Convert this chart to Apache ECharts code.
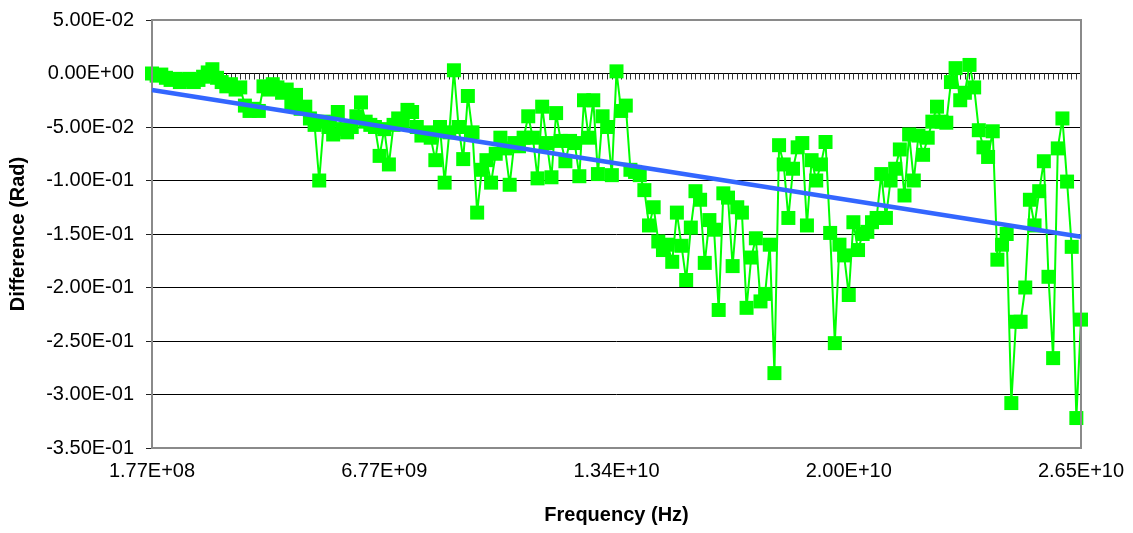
<!DOCTYPE html>
<html>
<head>
<meta charset="utf-8">
<script src="https://cdn.jsdelivr.net/npm/echarts@6/dist/echarts.min.js"></script>
<style>html,body{margin:0;padding:0;background:#fff}#c{width:1133px;height:533px}</style>
</head>
<body>
<div id="c"></div>
<script>
// Phase difference (rad), one value per frequency point (201 points, 1.77E+08 .. 2.65E+10 Hz)
const diff = [
  0.000,-0.002,-0.001,-0.004,-0.006,-0.005,-0.008,-0.006,-0.005,-0.008,
 -0.006,-0.003, 0.001, 0.004,-0.004,-0.008,-0.012,-0.010,-0.015,-0.013,
 -0.030,-0.035,-0.033,-0.035,-0.012,-0.015,-0.010,-0.013,-0.018,-0.015,
 -0.028,-0.020,-0.033,-0.031,-0.042,-0.048,-0.100,-0.045,-0.050,-0.057,
 -0.036,-0.052,-0.055,-0.050,-0.040,-0.027,-0.045,-0.048,-0.050,-0.077,
 -0.052,-0.085,-0.048,-0.042,-0.045,-0.034,-0.036,-0.050,-0.058,-0.055,
 -0.060,-0.081,-0.050,-0.102,-0.055, 0.003,-0.050,-0.080,-0.021,-0.055,
 -0.130,-0.090,-0.081,-0.102,-0.075,-0.060,-0.070,-0.104,-0.065,-0.068,
 -0.060,-0.040,-0.060,-0.098,-0.031,-0.065,-0.097,-0.037,-0.063,-0.082,
 -0.063,-0.065,-0.096,-0.025,-0.060,-0.025,-0.094,-0.040,-0.050,-0.095,
  0.002,-0.035,-0.030,-0.090,-0.092,-0.095,-0.109,-0.142,-0.125,-0.157,
 -0.165,-0.160,-0.176,-0.130,-0.161,-0.193,-0.144,-0.110,-0.118,-0.177,
 -0.137,-0.146,-0.221,-0.112,-0.116,-0.180,-0.125,-0.130,-0.219,-0.172,
 -0.154,-0.213,-0.206,-0.160,-0.280,-0.067,-0.085,-0.135,-0.089,-0.069,
 -0.065,-0.142,-0.081,-0.100,-0.085,-0.064,-0.149,-0.252,-0.160,-0.170,
 -0.207,-0.139,-0.165,-0.150,-0.148,-0.139,-0.135,-0.094,-0.135,-0.100,
 -0.089,-0.071,-0.114,-0.057,-0.100,-0.058,-0.076,-0.060,-0.045,-0.031,
 -0.045,-0.046,-0.008, 0.005,-0.025,-0.018, 0.008,-0.013,-0.053,-0.069,
 -0.078,-0.054,-0.174,-0.160,-0.150,-0.308,-0.232,-0.232,-0.200,-0.118,
 -0.142,-0.110,-0.082,-0.190,-0.266,-0.070,-0.042,-0.101,-0.162,-0.322,
 -0.230
];
// Linear trend line: value at first and last frequency point
const trendEnds = [-0.0154, -0.1525];
// Tick labels
const xTickLabels = ['1.77E+08','6.77E+09','1.34E+10','2.00E+10','2.65E+10'];
const xLabelEvery = 50;
const yTickLabels = ['-3.50E-01','-3.00E-01','-2.50E-01','-2.00E-01','-1.50E-01','-1.00E-01','-5.00E-02','0.00E+00','5.00E-02'];
const yMin = -0.35, yMax = 0.05, yStep = 0.05;

const categories = diff.map((_, i) => i);
const trendData = diff.map((_, i) => i === 0 ? trendEnds[0] : (i === diff.length - 1 ? trendEnds[1] : null));

const FONT = '"Liberation Sans", Arial, sans-serif';
const chart = echarts.init(document.getElementById('c'), null, {renderer: 'canvas'});
chart.setOption({
  animation: false,
  backgroundColor: '#ffffff',
  grid: {left: 152, right: 52, top: 20, bottom: 85, show: true, borderColor: '#8a8a8a', borderWidth: 2, backgroundColor: 'transparent', z: 3},
  xAxis: [{
    type: 'category', data: categories, boundaryGap: false, position: 'bottom',
    axisLine: {show: false, onZero: false},
    axisTick: {show: false},
    splitLine: {show: false},
    axisLabel: {interval: xLabelEvery - 1, margin: 13, color: '#000', fontFamily: FONT, fontSize: 20,
      formatter: (v, idx) => xTickLabels[Math.round(idx / xLabelEvery)]},
    name: 'Frequency (Hz)', nameLocation: 'middle', nameGap: 57,
    nameTextStyle: {color: '#000', fontFamily: FONT, fontSize: 20, fontWeight: 'bold'}
  }, {
    type: 'category', data: categories, boundaryGap: false, position: 'bottom',
    axisLine: {show: true, onZero: true, onZeroAxisIndex: 0, lineStyle: {color: '#000', width: 1}},
    axisTick: {show: true, interval: 0, length: 6, lineStyle: {color: '#333', width: 1}},
    axisLabel: {show: false},
    splitLine: {show: false}
  }],
  yAxis: {
    type: 'value', min: yMin, max: yMax, interval: yStep,
    axisLine: {show: true, lineStyle: {color: '#222', width: 1.5}},
    axisTick: {show: true, length: 6, lineStyle: {color: '#222', width: 1}},
    splitLine: {show: true, lineStyle: {color: ['#8a8a8a','#000','#000','#000','#000','#000','#000','#000','#8a8a8a'], width: 1}},
    axisLabel: {margin: 18, color: '#000', fontFamily: FONT, fontSize: 20,
      formatter: v => yTickLabels[Math.round((v - yMin) / yStep)]},
    name: 'Difference (Rad)', nameLocation: 'middle', nameRotate: 90, nameGap: 124,
    nameTextStyle: {color: '#000', fontFamily: FONT, fontSize: 20, fontWeight: 'bold'}
  },
  series: [{
    type: 'line', xAxisIndex: 0, data: diff,
    showAllSymbol: true, symbol: 'rect', symbolSize: 14,
    lineStyle: {color: '#00ff00', width: 2},
    itemStyle: {color: '#00ff00'},
    z: 2
  }, {
    type: 'line', xAxisIndex: 0, data: trendData, connectNulls: true,
    symbol: 'none', lineStyle: {color: '#3366ff', width: 4.5},
    z: 3
  }]
});
</script>
</body>
</html>
